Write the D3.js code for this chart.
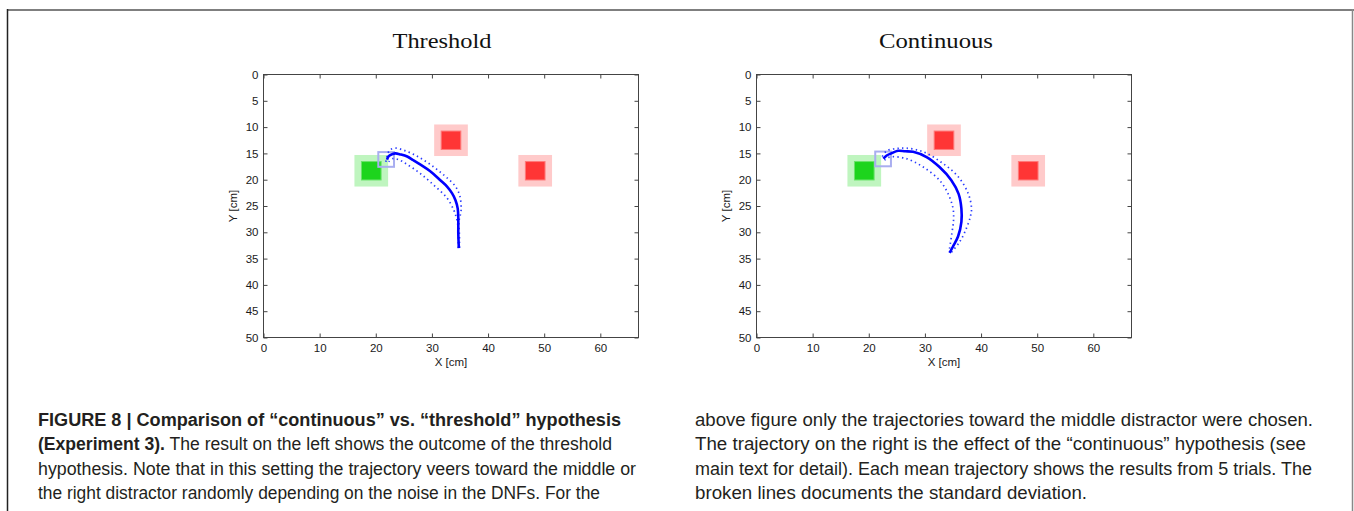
<!DOCTYPE html>
<meta charset="utf-8">
<head>
    <title>Figure 8</title>
    <script src="https://d3js.org/d3.v7.min.js"></script>
    <style>
        body { margin: 0; background: #fff; }
        .tick text { font-family: "Liberation Sans", Arial, sans-serif; font-size: 11.5px; fill: #1a1a1a; }
        .tick line { stroke: #444; }
    </style>
</head>
<body>
<div id="fig"></div>
<script>
    // figure size
    const width = 1354;
    const height = 511;

    // axes data
    const xTicks = [0, 10, 20, 30, 40, 50, 60];
    const yTicks = [0, 5, 10, 15, 20, 25, 30, 35, 40, 45, 50];
    const xDomain = [0, 66.8];
    const yDomain = [0, 50];

    // targets / distractors (centre in cm)
    const targets = [[19.2, 18.3]];
    const distractors = [[33.4, 12.5], [48.4, 18.3]];
    const innerSize = 3.5;
    const outerSize = 6;
    const startSize = 2.8;

    // threshold hypothesis: mean and +/- std
    const thrStart = [21.85, 16.15];
    const thrMean = [[22.0, 16.2], [22.3, 15.5], [23.0, 15.1], [23.5, 15.0], [24.4, 15.2], [25.6, 15.6],
        [26.7, 16.3], [27.9, 17.1], [29.7, 18.4], [31.5, 20.1], [32.7, 21.3], [33.6, 22.6], [34.2, 23.9],
        [34.6, 25.5], [34.7, 27.7], [34.7, 30.2], [34.8, 33.0]];
    const thrUpper = [[21.8, 16.6], [22.2, 14.9], [22.6, 14.3], [23.5, 14.0], [25.0, 14.4], [27.3, 15.5],
        [29.7, 17.1], [32.1, 19.1], [34.2, 21.3], [35.0, 23.2], [35.2, 25.8], [35.0, 27.0], [34.8, 28.0],
        [34.9, 30.5], [34.9, 33.0]];
    const thrLower = [[22.3, 16.6], [23.0, 16.0], [24.1, 16.2], [25.6, 17.1], [27.9, 18.8], [30.3, 21.0],
        [32.7, 23.5], [33.9, 25.8], [34.3, 27.0], [34.6, 28.5], [34.7, 30.5], [34.7, 33.0]];

    // continuous hypothesis
    const conStart = [22.55, 16.05];
    const conMean = [[22.6, 16.0], [23.2, 15.4], [24.0, 15.0], [25.2, 14.5], [26.5, 14.6], [27.9, 14.7],
        [30.3, 15.7], [32.6, 17.6], [34.7, 20.1], [36.0, 22.7], [36.5, 25.5], [36.5, 28.0], [35.9, 30.8],
        [35.0, 32.7], [34.4, 33.9]];
    const conUpper = [[22.4, 15.6], [23.2, 14.5], [24.8, 14.1], [26.7, 14.0], [29.7, 14.7], [33.2, 16.9],
        [35.9, 19.4], [37.7, 22.6], [38.3, 25.4], [38.1, 27.0], [37.4, 29.2], [36.2, 31.8], [34.7, 33.8]];
    const conLower = [[22.8, 16.3], [23.7, 15.7], [26.7, 16.0], [29.7, 17.6], [32.6, 20.1], [34.1, 22.6],
        [35.0, 25.4], [35.1, 27.7], [34.8, 30.2], [34.3, 33.7]];

    const panels = [
        { title: "Threshold", left: 263.5, titleX: 442, titleW: 99, start: thrStart, mean: thrMean, upper: thrUpper, lower: thrLower },
        { title: "Continuous", left: 756.5, titleX: 936, titleW: 114, start: conStart, mean: conMean, upper: conUpper, lower: conLower }
    ];
    const plotTop = 74.5, plotW = 375, plotH = 263;

    // caption lines: [bold part, regular part, textLength]
    const captionLeft = [
        ["FIGURE 8 | Comparison of \u201ccontinuous\u201d vs. \u201cthreshold\u201d hypothesis", "", 583],
        ["(Experiment 3).", " The result on the left shows the outcome of the threshold", 574],
        ["", "hypothesis. Note that in this setting the trajectory veers toward the middle or", 598],
        ["", "the right distractor randomly depending on the noise in the DNFs. For the", 562]
    ];
    const captionRight = [
        ["", "above figure only the trajectories toward the middle distractor were chosen.", 618],
        ["", "The trajectory on the right is the effect of the \u201ccontinuous\u201d hypothesis (see", 611],
        ["", "main text for detail). Each mean trajectory shows the results from 5 trials. The", 617],
        ["", "broken lines documents the standard deviation.", 392]
    ];

    const svg = d3.select("#fig").append("svg")
        .attr("width", width)
        .attr("height", height);

    // page frame
    svg.append("line").attr("x1", 7).attr("x2", width).attr("y1", 10).attr("y2", 10)
        .attr("stroke", "#7f7f7f").attr("stroke-width", 2);
    svg.append("line").attr("x1", 7.5).attr("x2", 7.5).attr("y1", 9).attr("y2", height)
        .attr("stroke", "#222").attr("stroke-width", 1.5);
    svg.append("line").attr("x1", 1352.5).attr("x2", 1352.5).attr("y1", 9).attr("y2", height)
        .attr("stroke", "#888").attr("stroke-width", 1.5);

    panels.forEach(function (p) {
        const x = d3.scaleLinear().domain(xDomain).range([p.left, p.left + plotW]);
        const y = d3.scaleLinear().domain(yDomain).range([plotTop, plotTop + plotH]);
        const g = svg.append("g");

        g.append("text")
            .attr("x", p.titleX).attr("y", 48)
            .attr("text-anchor", "middle")
            .attr("textLength", p.titleW).attr("lengthAdjust", "spacingAndGlyphs")
            .style("font-family", "'Liberation Serif', 'Times New Roman', serif")
            .style("font-size", "21px").style("fill", "#111")
            .text(p.title);

        // squares
        function square(c, s) {
            return g.append("rect")
                .attr("x", x(c[0] - s / 2)).attr("y", y(c[1] - s / 2))
                .attr("width", x(c[0] + s / 2) - x(c[0] - s / 2))
                .attr("height", y(c[1] + s / 2) - y(c[1] - s / 2));
        }
        targets.forEach(function (c) {
            square(c, outerSize).attr("fill", "#bff5bf");
            square(c, innerSize).attr("fill", "#1dd41d").attr("stroke", "#6be36b").attr("stroke-width", 1);
        });
        distractors.forEach(function (c) {
            square(c, outerSize).attr("fill", "#ffcaca");
            square(c, innerSize).attr("fill", "#ff3535").attr("stroke", "#ff7a7a").attr("stroke-width", 1);
        });
        square(p.start, startSize).attr("fill", "none").attr("stroke", "#a9aef0").attr("stroke-width", 2);

        const line = d3.line().x(d => x(d[0])).y(d => y(d[1])).curve(d3.curveCatmullRom);
        [p.upper, p.lower].forEach(function (s) {
            g.append("path").attr("d", line(s))
                .attr("fill", "none").attr("stroke", "#2a3cff")
                .attr("stroke-width", 1.7).attr("stroke-dasharray", "1.4,3.2");
        });
        g.append("path").attr("d", line(p.mean))
            .attr("fill", "none").attr("stroke", "#0000ff")
            .attr("stroke-width", 2.6).attr("stroke-linejoin", "round");

        // box
        g.append("rect").attr("x", p.left).attr("y", plotTop)
            .attr("width", plotW).attr("height", plotH)
            .attr("fill", "none").attr("stroke", "#444").attr("stroke-width", 1);

        const ax = g.append("g").attr("transform", "translate(0," + (plotTop + plotH) + ")")
            .call(d3.axisBottom(x).tickValues(xTicks).tickSizeInner(-4).tickSizeOuter(0).tickPadding(6));
        const ay = g.append("g").attr("transform", "translate(" + p.left + ",0)")
            .call(d3.axisLeft(y).tickValues(yTicks).tickSizeInner(-4).tickSizeOuter(0).tickPadding(5));
        const at = g.append("g").attr("transform", "translate(0," + plotTop + ")")
            .call(d3.axisTop(x).tickValues(xTicks).tickSizeInner(-4).tickSizeOuter(0).tickFormat(""));
        const ar = g.append("g").attr("transform", "translate(" + (p.left + plotW) + ",0)")
            .call(d3.axisRight(y).tickValues(yTicks).tickSizeInner(-4).tickSizeOuter(0).tickFormat(""));
        [ax, ay, at, ar].forEach(a => a.select(".domain").remove());

        g.append("text")
            .attr("x", p.left + plotW / 2).attr("y", 366)
            .attr("text-anchor", "middle")
            .style("font-family", "'Liberation Sans', Arial, sans-serif")
            .style("font-size", "11.5px").style("fill", "#1a1a1a")
            .text("X [cm]");
        g.append("text")
            .attr("transform", "translate(" + (p.left - 27) + "," + (plotTop + plotH / 2) + ") rotate(-90)")
            .attr("text-anchor", "middle")
            .style("font-family", "'Liberation Sans', Arial, sans-serif")
            .style("font-size", "11.5px").style("fill", "#1a1a1a")
            .text("Y [cm]");
    });

    // caption
    function caption(lines, x0) {
        lines.forEach(function (l, i) {
            const t = svg.append("text")
                .attr("x", x0).attr("y", 426 + i * 24.3)
                .attr("textLength", l[2]).attr("lengthAdjust", "spacingAndGlyphs")
                .style("font-family", "'Liberation Sans', Arial, sans-serif")
                .style("font-size", "17.5px").style("fill", "#231f20");
            if (l[0]) t.append("tspan").style("font-weight", "bold").text(l[0]);
            if (l[1]) t.append("tspan").text(l[1]);
        });
    }
    caption(captionLeft, 38);
    caption(captionRight, 695);
</script>
</body>
</html>
